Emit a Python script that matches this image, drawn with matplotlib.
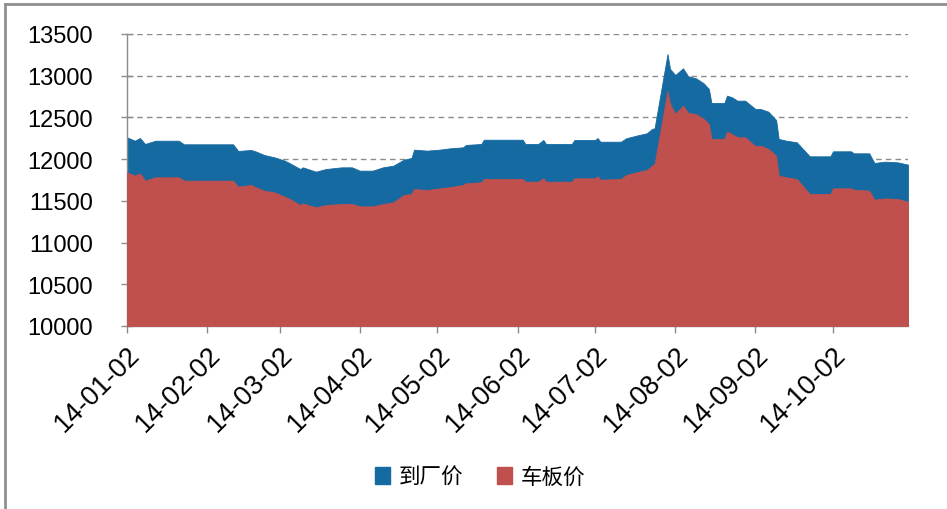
import matplotlib
matplotlib.use("Agg")
import matplotlib.pyplot as plt
from matplotlib.patches import Patch
from matplotlib.lines import Line2D
import pandas as pd

plt.rcParams['font.family'] = ['Liberation Sans', 'Noto Sans CJK SC', 'DejaVu Sans']

dates = ["2014-01-02", "2014-01-05", "2014-01-07", "2014-01-09", "2014-01-13", "2014-01-22",
         "2014-01-24", "2014-02-12", "2014-02-14", "2014-02-19", "2014-02-21", "2014-02-24",
         "2014-02-28", "2014-03-04", "2014-03-06", "2014-03-10", "2014-03-11", "2014-03-16",
         "2014-03-20", "2014-03-26", "2014-03-30", "2014-04-02", "2014-04-07", "2014-04-11",
         "2014-04-15", "2014-04-19", "2014-04-22", "2014-04-23", "2014-04-28", "2014-05-03",
         "2014-05-07", "2014-05-12", "2014-05-13", "2014-05-19", "2014-05-20", "2014-06-04",
         "2014-06-05", "2014-06-10", "2014-06-12", "2014-06-13", "2014-06-23", "2014-06-24",
         "2014-07-02", "2014-07-03", "2014-07-04", "2014-07-12", "2014-07-14", "2014-07-18",
         "2014-07-22", "2014-07-24", "2014-07-25", "2014-07-30", "2014-07-31", "2014-08-02",
         "2014-08-05", "2014-08-07", "2014-08-10", "2014-08-13", "2014-08-15", "2014-08-16",
         "2014-08-21", "2014-08-22", "2014-08-24", "2014-08-26", "2014-08-29", "2014-09-02",
         "2014-09-04", "2014-09-07", "2014-09-09", "2014-09-10", "2014-09-11", "2014-09-14",
         "2014-09-18", "2014-09-23", "2014-10-01", "2014-10-02", "2014-10-09", "2014-10-10",
         "2014-10-16", "2014-10-18", "2014-10-22", "2014-10-27", "2014-10-31"]

# 到厂价 (delivered-to-plant price)
price_plant = [12262, 12221, 12253, 12182, 12221, 12221,
               12178, 12178, 12098, 12110, 12090, 12050,
               12022, 11982, 11950, 11882, 11902, 11850,
               11882, 11902, 11902, 11862, 11862, 11902,
               11922, 11993, 12014, 12114, 12102, 12114,
               12130, 12142, 12170, 12182, 12233, 12233,
               12182, 12182, 12230, 12182, 12182, 12230,
               12230, 12253, 12209, 12209, 12250, 12282,
               12310, 12362, 12370, 13260, 13080, 13009,
               13089, 12993, 12969, 12909, 12841, 12673,
               12673, 12761, 12741, 12701, 12701, 12601,
               12601, 12569, 12502, 12470, 12242, 12221,
               12202, 12034, 12034, 12094, 12094, 12070,
               12070, 11954, 11970, 11962, 11934]

# 车板价 (on-rail price)
price_rail = [11842, 11802, 11830, 11742, 11782, 11782,
              11742, 11742, 11670, 11690, 11660, 11622,
              11602, 11550, 11522, 11450, 11470, 11422,
              11450, 11462, 11462, 11434, 11434, 11462,
              11482, 11570, 11582, 11642, 11630, 11650,
              11665, 11690, 11710, 11722, 11762, 11762,
              11730, 11730, 11770, 11730, 11730, 11770,
              11770, 11794, 11754, 11762, 11810, 11842,
              11870, 11922, 11942, 12813, 12661, 12541,
              12641, 12553, 12541, 12481, 12421, 12242,
              12242, 12329, 12300, 12262, 12262, 12154,
              12160, 12122, 12070, 12034, 11802, 11782,
              11762, 11582, 11582, 11650, 11650, 11634,
              11622, 11514, 11530, 11522, 11490]

series_names = ["到厂价", "车板价"]
tick_dates = ["2014-01-02", "2014-02-02", "2014-03-02", "2014-04-02", "2014-05-02",
              "2014-06-02", "2014-07-02", "2014-08-02", "2014-09-02", "2014-10-02"]
tick_labels = ["14-01-02", "14-02-02", "14-03-02", "14-04-02", "14-05-02",
               "14-06-02", "14-07-02", "14-08-02", "14-09-02", "14-10-02"]
y_ticks = [10000, 10500, 11000, 11500, 12000, 12500, 13000, 13500]

blue = '#156AA1'
red = '#C0504D'

x = pd.to_datetime(dates)
fig = plt.figure(figsize=(9.47, 5.10), dpi=100)
ax = fig.add_axes([127/947, 1-327/510, (908-127)/947, 292/510])

ax.fill_between(x, 10000, price_plant, color=blue, lw=0.6, edgecolor=blue, zorder=2)
ax.fill_between(x, 10000, price_rail, color=red, lw=0.6, edgecolor=red, zorder=3)

ax.set_xlim(pd.Timestamp("2014-01-02"), pd.Timestamp("2014-10-31"))
ax.set_ylim(10000, 13500)
ax.set_yticks(y_ticks)
ax.set_yticklabels([str(v) for v in y_ticks])
ax.set_xticks(pd.to_datetime(tick_dates))
ax.set_xticklabels(tick_labels, rotation=45, ha='right', va='top', rotation_mode='anchor')

ax.yaxis.grid(True, linestyle=(0, (4, 3)), color='#8C8C8C', lw=1.0, zorder=0)
ax.set_axisbelow(True)
for s in ['top', 'right']:
    ax.spines[s].set_visible(False)
for s in ['left', 'bottom']:
    ax.spines[s].set_color('#8C8C8C')
    ax.spines[s].set_linewidth(1.0)
ax.tick_params(axis='y', direction='inout', length=9, width=1, color='#8C8C8C', pad=20,
               labelsize=17, labelcolor='#000000')
ax.tick_params(axis='x', direction='out', length=5, width=1, color='#8C8C8C', pad=6,
               labelsize=19.5, labelcolor='#000000')

handles = [Patch(facecolor=blue, edgecolor=blue), Patch(facecolor=red, edgecolor=red)]
leg = fig.legend(handles, series_names, loc='center', bbox_to_anchor=(0.507, 0.063),
                 ncol=2, frameon=False, handlelength=0.7, handleheight=0.9,
                 handletextpad=0.4, columnspacing=1.6,
                 prop={'family': ['Noto Sans CJK SC', 'DejaVu Sans'], 'size': 15.5})

# outer frame (top and left edges)
fig.add_artist(Line2D([5/947, 1.0], [1-5/510, 1-5/510], color='#8F8F8F', lw=2, transform=fig.transFigure))
fig.add_artist(Line2D([5/947, 5/947], [0, 1-5/510], color='#8F8F8F', lw=2, transform=fig.transFigure))

fig.savefig("out.png", dpi=100)
